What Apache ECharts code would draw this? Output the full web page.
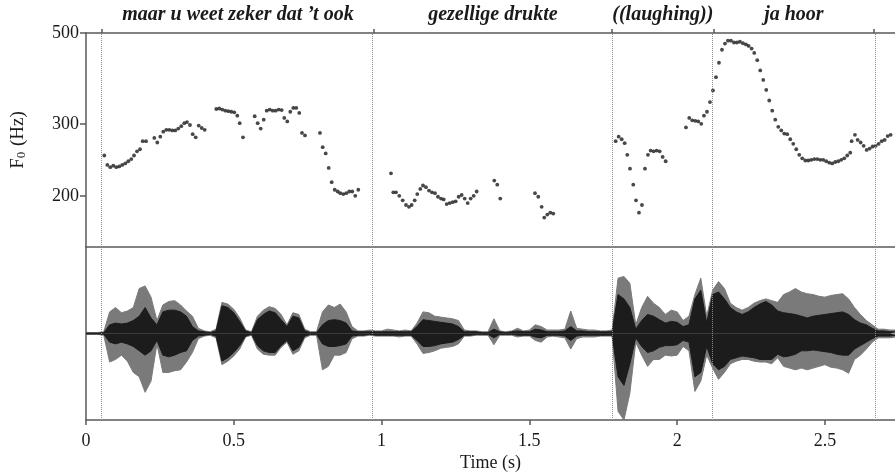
<!DOCTYPE html>
<html>
<head>
<meta charset="utf-8">
<script src="https://cdn.jsdelivr.net/npm/echarts@6/dist/echarts.min.js"></script>
<style>html,body{margin:0;padding:0;background:#fff}#c{width:895px;height:475px}</style>
</head>
<body>
<div id="c"></div>
<script>
// ---- Data ----
const xMax = 2.737;
const boundaries = [0.054, 0.974, 1.779, 2.124, 2.666];
const words = ["maar u weet zeker dat \u2019t ook", "gezellige drukte", "((laughing))", "ja hoor"];
const yTicks = [200, 300, 500];
const xTicks = [0, 0.5, 1, 1.5, 2, 2.5];

// F0 pitch track (time in s, F0 in Hz)
const f0Time = [0.0619,0.0721,0.0822,0.0924,0.1025,0.1127,0.1228,0.1330,0.1431,0.1532,0.1624,0.1725,0.1827,0.1918,0.2030,0.2311,0.2412,0.2514,0.2615,0.2717,0.2818,0.2920,0.3021,0.3122,0.3224,0.3325,0.3417,0.3518,0.3610,0.3711,0.3813,0.3914,0.4016,0.4408,0.4510,0.4611,0.4712,0.4814,0.4915,0.5017,0.5118,0.5200,0.5311,0.5707,0.5808,0.5910,0.6012,0.6113,0.6215,0.6316,0.6417,0.6519,0.6621,0.6708,0.6810,0.6911,0.7013,0.7114,0.7216,0.7307,0.7409,0.7916,0.8008,0.8109,0.8211,0.8312,0.8414,0.8515,0.8603,0.8704,0.8806,0.8907,0.9009,0.9110,0.9212,
1.0318,1.0396,1.0487,1.0599,1.0714,1.0826,1.0927,1.1018,1.1120,1.1208,1.1309,1.1401,1.1502,1.1604,1.1705,1.1807,1.1908,1.2010,1.2101,1.2202,1.2304,1.2405,1.2507,1.2608,1.2710,1.2811,1.2913,1.3014,1.3116,1.3217,1.3813,1.3914,1.4016,1.5190,1.5301,1.5416,1.5504,1.5606,1.5707,1.5809,
1.7920,1.8021,1.8123,1.8224,1.8312,1.8404,1.8515,1.8607,1.8708,1.8809,1.8911,1.9012,1.9104,1.9205,1.9307,1.9408,1.9510,1.9611,2.0298,2.0409,2.0511,2.0612,2.0714,2.0815,2.0907,2.1008,2.1110,2.1211,2.1313,2.1414,2.1516,2.1617,2.1718,2.1820,2.1921,2.2023,2.2124,2.2226,2.2327,2.2419,2.2520,2.2608,2.2710,2.2811,2.2913,2.3014,2.3116,2.3217,2.3319,2.3420,2.3522,2.3623,2.3725,2.3826,2.3928,2.4029,2.4131,2.4232,2.4334,2.4435,2.4537,2.4638,2.4740,2.4841,2.4942,2.5044,2.5145,2.5247,2.5348,2.5450,2.5551,2.5653,2.5754,2.5856,2.5903,2.6015,2.6107,2.6208,2.6310,2.6411,2.6513,2.6614,2.6716,2.6817,2.6919,2.7020,2.7122,2.7223];
const f0Hz = [251,238,235,237,235,236,238,240,243,246,251,257,260,272,272,277,270,279,287,290,290,289,289,292,296,301,303,298,283,278,297,293,290,326,327,325,323,322,321,320,314,301,278,313,301,292,307,323,325,323,323,325,324,310,304,321,328,328,319,285,281,285,263,254,234,216,207,205,203,202,203,205,205,200,207,
227,204,204,200,195,190,188,190,195,202,208,212,210,206,204,203,199,197,196,191,192,193,194,199,201,197,192,197,200,205,218,213,197,203,199,188,177,180,182,181,
272,279,275,269,252,233,213,195,182,190,233,252,258,257,258,257,249,243,294,310,306,305,304,300,314,321,339,362,390,423,455,471,479,479,474,474,476,472,469,465,458,447,429,405,384,363,342,323,307,295,289,284,283,275,268,260,252,247,244,244,245,246,246,245,245,243,241,240,242,243,245,247,251,255,272,282,274,270,265,259,261,264,265,268,272,274,280,282];

// Waveform amplitude envelopes, sampled every 0.02 s from t = 0
const waveStep = 0.02;
const outerHi = [0.01,0.01,0.01,0.02,0.25,0.30,0.24,0.26,0.30,0.52,0.55,0.42,0.15,0.33,0.37,0.38,0.33,0.26,0.20,0.06,0.03,0.02,0.05,0.36,0.34,0.28,0.18,0.04,0.02,0.20,0.27,0.31,0.29,0.22,0.10,0.24,0.22,0.05,0.02,0.02,0.25,0.33,0.30,0.34,0.25,0.08,0.03,0.03,0.04,0.03,0.03,0.05,0.04,0.03,0.04,0.03,0.12,0.25,0.24,0.20,0.19,0.18,0.17,0.15,0.04,0.03,0.03,0.02,0.02,0.17,0.03,0.02,0.03,0.06,0.03,0.04,0.10,0.08,0.04,0.04,0.04,0.05,0.26,0.06,0.05,0.04,0.04,0.03,0.03,0.04,0.64,0.66,0.58,0.10,0.30,0.43,0.35,0.30,0.22,0.27,0.25,0.15,0.20,0.45,0.64,0.20,0.50,0.60,0.52,0.35,0.30,0.27,0.30,0.35,0.38,0.40,0.38,0.36,0.45,0.48,0.52,0.48,0.46,0.45,0.43,0.42,0.44,0.45,0.46,0.40,0.30,0.22,0.15,0.10,0.05,0.05,0.04,0.04];
const outerLo = [-0.01,-0.01,-0.01,-0.02,-0.33,-0.30,-0.25,-0.32,-0.45,-0.50,-0.68,-0.55,-0.12,-0.45,-0.45,-0.43,-0.42,-0.33,-0.22,-0.06,-0.03,-0.02,-0.05,-0.36,-0.32,-0.26,-0.18,-0.04,-0.02,-0.18,-0.24,-0.25,-0.25,-0.16,-0.10,-0.24,-0.20,-0.05,-0.02,-0.02,-0.42,-0.38,-0.25,-0.25,-0.22,-0.06,-0.03,-0.03,-0.02,-0.03,-0.03,-0.03,-0.03,-0.04,-0.03,-0.03,-0.12,-0.23,-0.22,-0.20,-0.17,-0.16,-0.15,-0.12,-0.03,-0.03,-0.02,-0.02,-0.02,-0.13,-0.02,-0.02,-0.02,-0.04,-0.03,-0.03,-0.08,-0.10,-0.04,-0.03,-0.04,-0.05,-0.18,-0.06,-0.04,-0.04,-0.04,-0.03,-0.03,-0.03,-0.90,-1.00,-0.69,-0.10,-0.25,-0.38,-0.30,-0.30,-0.25,-0.26,-0.25,-0.15,-0.20,-0.67,-0.55,-0.25,-0.40,-0.53,-0.45,-0.35,-0.32,-0.30,-0.30,-0.32,-0.33,-0.33,-0.35,-0.28,-0.38,-0.40,-0.42,-0.40,-0.42,-0.40,-0.38,-0.36,-0.39,-0.40,-0.42,-0.46,-0.30,-0.25,-0.18,-0.10,-0.05,-0.05,-0.05,-0.04];
const innerHi = [0.005,0.005,0.005,0.01,0.10,0.12,0.11,0.12,0.15,0.20,0.30,0.18,0.10,0.25,0.27,0.27,0.25,0.20,0.08,0.03,0.02,0.01,0.03,0.32,0.30,0.24,0.14,0.03,0.01,0.16,0.22,0.26,0.24,0.16,0.08,0.20,0.18,0.03,0.01,0.01,0.10,0.15,0.16,0.15,0.12,0.03,0.02,0.02,0.02,0.02,0.02,0.02,0.02,0.02,0.02,0.02,0.08,0.16,0.15,0.14,0.13,0.12,0.11,0.08,0.02,0.02,0.02,0.01,0.01,0.05,0.02,0.01,0.02,0.03,0.02,0.02,0.05,0.04,0.02,0.02,0.02,0.03,0.08,0.03,0.03,0.02,0.02,0.02,0.02,0.02,0.45,0.40,0.30,0.05,0.15,0.22,0.20,0.16,0.12,0.14,0.13,0.08,0.10,0.40,0.50,0.12,0.45,0.48,0.40,0.30,0.25,0.22,0.25,0.30,0.34,0.37,0.33,0.26,0.24,0.23,0.22,0.20,0.18,0.20,0.21,0.22,0.23,0.24,0.25,0.22,0.16,0.12,0.10,0.06,0.03,0.03,0.02,0.02];
const innerLo = [-0.005,-0.005,-0.005,-0.01,-0.10,-0.12,-0.10,-0.12,-0.15,-0.20,-0.25,-0.20,-0.08,-0.25,-0.27,-0.25,-0.22,-0.20,-0.08,-0.03,-0.02,-0.01,-0.03,-0.32,-0.28,-0.22,-0.14,-0.03,-0.01,-0.14,-0.20,-0.22,-0.22,-0.14,-0.08,-0.20,-0.16,-0.03,-0.01,-0.01,-0.12,-0.15,-0.15,-0.14,-0.12,-0.03,-0.02,-0.02,-0.01,-0.02,-0.02,-0.02,-0.02,-0.02,-0.02,-0.02,-0.08,-0.15,-0.15,-0.14,-0.12,-0.11,-0.10,-0.07,-0.02,-0.02,-0.01,-0.01,-0.01,-0.05,-0.01,-0.01,-0.01,-0.02,-0.02,-0.02,-0.04,-0.05,-0.02,-0.02,-0.02,-0.03,-0.08,-0.03,-0.02,-0.02,-0.02,-0.02,-0.02,-0.02,-0.50,-0.60,-0.35,-0.05,-0.15,-0.22,-0.20,-0.16,-0.14,-0.14,-0.13,-0.08,-0.10,-0.50,-0.45,-0.15,-0.35,-0.42,-0.38,-0.30,-0.28,-0.26,-0.27,-0.28,-0.30,-0.30,-0.30,-0.24,-0.27,-0.26,-0.24,-0.20,-0.20,-0.19,-0.20,-0.21,-0.22,-0.24,-0.25,-0.25,-0.18,-0.14,-0.10,-0.06,-0.03,-0.03,-0.03,-0.02];

// ---- Chart ----
const serif = "'Liberation Serif','DejaVu Serif','Times New Roman',serif";
const axisColor = '#5a5a5a';
const lineStyle = {color: axisColor, width: 1.5};
const mids = words.map((w, i) => (boundaries[i] + boundaries[i + 1]) / 2);
const waveData = arr => arr.map((v, i) => [+(i * waveStep).toFixed(3), v]);
const boundaryMarks = {
  silent: true, symbol: ['none', 'none'], label: {show: false},
  lineStyle: {type: 'dotted', color: '#8a8a8a', width: 1},
  data: boundaries.map(b => ({xAxis: b}))
};
function envSeries(arr, color, withMarks) {
  const s = {
    type: 'line', xAxisIndex: 2, yAxisIndex: 1, data: waveData(arr),
    showSymbol: false, symbol: 'none', smooth: false, clip: true,
    lineStyle: {color: color, width: 1}, areaStyle: {color: color, opacity: 1, origin: 'auto'}
  };
  if (withMarks) s.markLine = boundaryMarks;
  return s;
}

const chart = echarts.init(document.getElementById('c'), null, {renderer: 'canvas'});
chart.setOption({
  animation: false,
  backgroundColor: '#fff',
  grid: [
    {left: 86, right: 0, top: 33, height: 214},
    {left: 86, right: 0, top: 247, height: 173}
  ],
  xAxis: [
    {gridIndex: 0, type: 'value', min: 0, max: xMax, position: 'bottom',
     axisLine: {show: true, onZero: false, lineStyle: lineStyle}, axisTick: {show: false},
     axisLabel: {show: false}, splitLine: {show: false}},
    {gridIndex: 0, type: 'value', min: 0, max: xMax, position: 'top',
     axisLine: {show: true, onZero: false, lineStyle: lineStyle},
     axisTick: {show: true, customValues: boundaries, length: 4, lineStyle: lineStyle},
     axisLabel: {show: true, customValues: mids, margin: 8,
       formatter: v => { let best = 0; mids.forEach((m, i) => { if (Math.abs(m - v) < Math.abs(mids[best] - v)) best = i; }); return words[best]; },
       fontFamily: serif, fontSize: 20, fontStyle: 'italic', fontWeight: 'bold', color: '#1a1a1a'},
     splitLine: {show: false}},
    {gridIndex: 1, type: 'value', min: 0, max: xMax, interval: 0.5, position: 'bottom',
     axisLine: {show: true, onZero: false, lineStyle: lineStyle},
     axisTick: {show: true, customValues: xTicks, length: 5, lineStyle: lineStyle},
     axisLabel: {show: true, customValues: xTicks, margin: 12, fontFamily: serif, fontSize: 18, color: '#1a1a1a'},
     splitLine: {show: false},
     name: 'Time (s)', nameLocation: 'middle', nameGap: 34,
     nameTextStyle: {fontFamily: serif, fontSize: 18, color: '#1a1a1a'}}
  ],
  yAxis: [
    {gridIndex: 0, type: 'log', logBase: 10, min: 150, max: 500,
     axisLine: {show: true, onZero: false, lineStyle: lineStyle},
     axisTick: {show: true, customValues: yTicks, length: 6, lineStyle: lineStyle},
     axisLabel: {show: true, customValues: yTicks, margin: 7, fontFamily: serif, fontSize: 18, color: '#1a1a1a'},
     splitLine: {show: false}, minorTick: {show: false},
     name: '{a|F}{s|0}{a| (Hz)}', nameLocation: 'middle', nameGap: 58, nameRotate: 90,
     nameTextStyle: {rich: {
       a: {fontFamily: serif, fontSize: 19, color: '#1a1a1a', lineHeight: 24, verticalAlign: 'bottom'},
       s: {fontFamily: serif, fontSize: 13, color: '#1a1a1a', lineHeight: 14, verticalAlign: 'bottom', padding: [0, 1, 0, 0]}
     }}},
    {gridIndex: 1, type: 'value', min: -1, max: 1,
     axisLine: {show: true, onZero: false, lineStyle: lineStyle},
     axisTick: {show: false}, axisLabel: {show: false}, splitLine: {show: false}}
  ],
  series: [
    {type: 'scatter', xAxisIndex: 0, yAxisIndex: 0,
     data: f0Time.map((t, i) => [t, f0Hz[i]]),
     symbol: 'circle', symbolSize: 3.8, itemStyle: {color: '#1a1a1a'},
     markLine: boundaryMarks},
    envSeries(outerHi, '#7a7a7a', true),
    envSeries(outerLo, '#7a7a7a', false),
    envSeries(innerHi, '#1c1c1c', false),
    envSeries(innerLo, '#1c1c1c', false)
  ]
});
</script>
</body>
</html>
